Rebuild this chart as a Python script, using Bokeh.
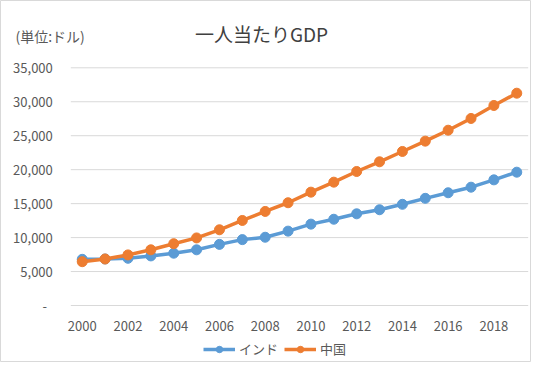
from bokeh.plotting import figure
from bokeh.models import Range1d, Label, Legend, LegendItem, FixedTicker, NumeralTickFormatter, ColumnDataSource
from bokeh.embed import file_html
from bokeh.resources import INLINE

years = list(range(2000, 2020))
india = [6800, 6850, 6950, 7300, 7700, 8200, 9000, 9700, 10050, 10950,
         11980, 12700, 13500, 14100, 14900, 15780, 16600, 17420, 18500, 19630]
china = [6450, 6850, 7450, 8200, 9100, 9950, 11150, 12520, 13850, 15130,
         16690, 18160, 19730, 21160, 22680, 24200, 25810, 27540, 29450, 31260]
x_ticks = list(range(2000, 2019, 2))
y_ticks = list(range(0, 35001, 5000))
title_text = "一人当たりGDP"
unit_text = "(単位:ドル)"
series_names = ["インド", "中国"]
colors = ["#5B9BD5", "#ED7D31"]

FONT = "Noto Sans CJK JP"
GRAY = "#595959"

# layout (pixels): figure size and plot-area box inside it
W, H = 531, 362
PL, PR, PT, PB = 70.3, 527.7, 67.3, 305.0
X0, X1 = years[0] - 0.5, years[-1] + 0.5
Y0, Y1 = y_ticks[0], y_ticks[-1]
sx = (X1 - X0) / (PR - PL)
sy = (Y1 - Y0) / (PB - PT)
x_start, x_end = X0 - PL * sx, X1 + (W - PR) * sx
y_start, y_end = Y0 - (H - PB) * sy, Y1 + PT * sy


def px_x(px):
    return x_start + px * sx


def px_y(py):
    return y_end - py * sy


p = figure(width=W, height=H, output_backend="svg", toolbar_location=None,
           x_range=Range1d(x_start, x_end), y_range=Range1d(y_start, y_end),
           min_border=0, min_border_left=0, min_border_right=0,
           min_border_top=0, min_border_bottom=0)
p.outline_line_color = "#D9D9D9"
p.outline_line_width = 1
p.background_fill_color = "white"
p.border_fill_color = "white"
p.xgrid.grid_line_color = None
p.ygrid.grid_line_color = None

# axes pinned to the plot-area edges
p.xaxis.fixed_location = Y0
p.yaxis.fixed_location = X0
p.xaxis.ticker = FixedTicker(ticks=x_ticks)
p.yaxis.ticker = FixedTicker(ticks=y_ticks)
p.yaxis.formatter = NumeralTickFormatter(format="0,0")
p.yaxis.major_label_overrides = {0: "-\u00a0\u00a0"}
for ax in (p.xaxis, p.yaxis):
    ax.axis_line_color = None
    ax.major_tick_line_color = None
    ax.minor_tick_line_color = None
    ax.major_tick_out = 0
    ax.major_tick_in = 0
    ax.major_label_text_font = FONT
    ax.major_label_text_font_size = "13px"
    ax.major_label_text_color = GRAY
p.yaxis.major_label_standoff = 18
p.xaxis.major_label_standoff = 15

# horizontal gridlines across the plot area
p.segment(x0=X0, x1=X1, y0=y_ticks, y1=y_ticks, line_color="#D9D9D9", line_width=1)

src = ColumnDataSource(dict(year=years, india=india, china=china))
items = []
for key, name, c in zip(["india", "china"], series_names, colors):
    l = p.line("year", key, source=src, line_color=c, line_width=3.5)
    s = p.scatter("year", key, source=src, size=10, fill_color=c, line_color=c)
    items.append(LegendItem(label=name, renderers=[l, s]))

legend = Legend(items=items, orientation="horizontal", location=(203, 4),
                glyph_width=32, glyph_height=16, label_standoff=4, spacing=6,
                padding=0, margin=0, border_line_color=None, background_fill_alpha=0,
                label_text_font=FONT, label_text_font_size="13px", label_text_color=GRAY)
p.add_layout(legend, "center")

p.add_layout(Label(x=px_x(261), y=px_y(33), text=title_text,
                   text_align="center", text_baseline="middle", text_font=FONT,
                   text_font_size="19px", text_color="#404040"))
p.add_layout(Label(x=px_x(15), y=px_y(35), text=unit_text,
                   text_align="left", text_baseline="middle", text_font=FONT,
                   text_font_size="14px", text_color=GRAY))

open("out.html", "w").write(file_html(p, INLINE))
